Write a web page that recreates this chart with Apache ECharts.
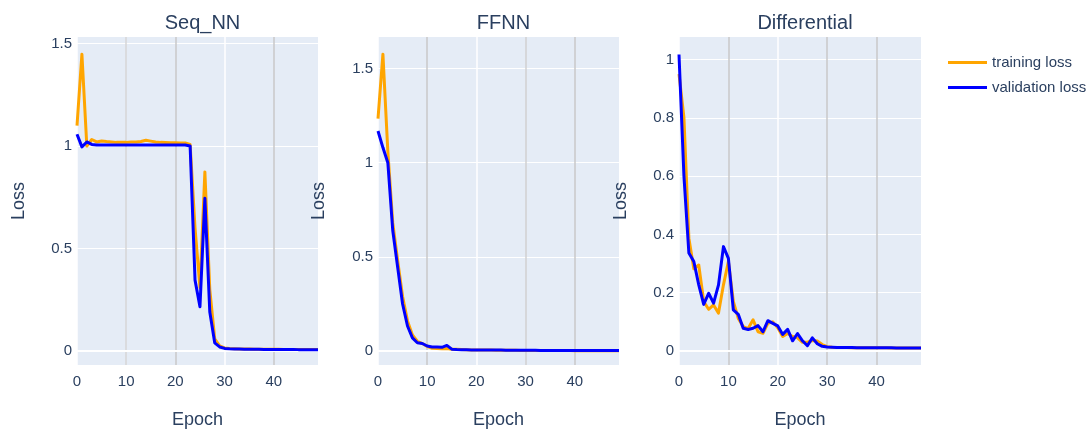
<!DOCTYPE html>
<html>
<head>
<meta charset="utf-8">
<script src="https://cdn.jsdelivr.net/npm/echarts@6/dist/echarts.min.js"></script>
<style>
  html, body { margin: 0; padding: 0; background: #fff; }
  #main { width: 1086px; height: 434px; }
</style>
</head>
<body>
<div id="main"></div>
<script>
// epochs 0..49
const epochs = [0,1,2,3,4,5,6,7,8,9,10,11,12,13,14,15,16,17,18,19,20,21,22,23,24,25,26,27,28,29,
  30,31,32,33,34,35,36,37,38,39,40,41,42,43,44,45,46,47,48,49];

// Seq_NN
const seqTrain = [1.10,1.448,1.00,1.032,1.02,1.025,1.022,1.02,1.018,1.018,1.018,1.02,1.02,1.022,1.028,1.024,1.02,1.018,1.017,1.016,
  1.016,1.015,1.015,1.008,0.60,0.31,0.874,0.30,0.06,0.025,0.015,0.012,0.011,0.01,0.01,0.01,0.009,0.009,0.009,0.009,
  0.009,0.009,0.008,0.008,0.008,0.008,0.008,0.008,0.008,0.008];
const seqVal = [1.058,0.996,1.02,1.008,1.005,1.005,1.005,1.005,1.005,1.005,1.005,1.005,1.005,1.005,1.005,1.005,1.005,1.005,1.005,1.005,
  1.005,1.005,1.005,1.0,0.346,0.216,0.745,0.19,0.04,0.02,0.013,0.011,0.01,0.01,0.009,0.009,0.009,0.009,0.008,0.008,
  0.008,0.008,0.008,0.008,0.008,0.007,0.007,0.007,0.007,0.007];

// FFNN
const ffTrain = [1.234,1.576,1.06,0.68,0.48,0.29,0.16,0.085,0.052,0.04,0.025,0.015,0.013,0.012,0.014,0.01,0.009,0.008,0.007,0.006,
  0.006,0.005,0.005,0.005,0.004,0.004,0.004,0.004,0.004,0.003,0.003,0.003,0.003,0.003,0.003,0.003,0.003,0.003,0.003,0.003,
  0.002,0.002,0.002,0.002,0.002,0.002,0.002,0.002,0.002,0.002];
const ffVal = [1.168,1.08,1.0,0.64,0.444,0.25,0.133,0.07,0.044,0.04,0.027,0.022,0.021,0.02,0.03,0.01,0.008,0.007,0.007,0.006,
  0.006,0.006,0.005,0.005,0.005,0.005,0.004,0.004,0.004,0.004,0.004,0.004,0.004,0.003,0.003,0.003,0.003,0.003,0.003,0.003,
  0.003,0.003,0.003,0.003,0.003,0.003,0.003,0.003,0.003,0.003];

// Differential
const diffTrain = [0.95,0.8,0.387,0.282,0.295,0.17,0.143,0.158,0.13,0.227,0.307,0.17,0.112,0.084,0.077,0.107,0.066,0.061,0.095,0.1,
  0.08,0.05,0.06,0.05,0.045,0.03,0.03,0.036,0.034,0.022,0.015,0.013,0.012,0.012,0.012,0.011,0.011,0.011,0.011,0.011,
  0.011,0.011,0.011,0.01,0.01,0.01,0.01,0.01,0.01,0.01];
const diffVal = [1.017,0.6,0.336,0.307,0.227,0.16,0.198,0.164,0.227,0.358,0.318,0.141,0.126,0.078,0.074,0.078,0.087,0.066,0.104,0.095,
  0.086,0.057,0.074,0.035,0.06,0.035,0.018,0.045,0.025,0.016,0.014,0.013,0.012,0.012,0.012,0.012,0.011,0.011,0.011,0.011,
  0.011,0.011,0.011,0.011,0.01,0.01,0.01,0.01,0.01,0.01];

const titles = ['Seq_NN', 'FFNN', 'Differential'];
const xTicks = [0, 10, 20, 30, 40];
const yTicks = [[0, 0.5, 1, 1.5], [0, 0.5, 1, 1.5], [0, 0.2, 0.4, 0.6, 0.8, 1]];
const yRanges = [[-0.068, 1.532], [-0.074, 1.667], [-0.048, 1.077]];
// colours of vertical grid lines at 0,10,20,30,40
const vGridColors = [
  ['#ffffff', '#d6d6d6', '#c8c8c8', '#ffffff', '#c8c8c8'],
  ['#ffffff', '#c8c8c8', '#ffffff', '#d0d0d0', '#c8c8c8'],
  ['#ffffff', '#c8c8c8', '#ffffff', '#c8c8c8', '#c8c8c8']
];

const FONT = "'Liberation Sans', Arial, sans-serif";
const TXT = '#2a3f5f';
const grids = [
  { left: 77, top: 37, width: 241, height: 328 },
  { left: 378, top: 37, width: 241, height: 328 },
  { left: 679, top: 37, width: 242, height: 328 }
];
const nameGaps = [49, 50, 49];

function pairs(ys) {
  return epochs.map((e, i) => [e, ys[i]]);
}

const seriesData = [[seqTrain, seqVal], [ffTrain, ffVal], [diffTrain, diffVal]];

let series = [];
seriesData.forEach((d, i) => {
  // zero line, kept under the curves
  series.push({
    type: 'line', xAxisIndex: i, yAxisIndex: i, data: [], silent: true, z: 1,
    markLine: {
      silent: true, symbol: 'none', z: 1, label: { show: false },
      lineStyle: { color: '#ffffff', width: 2, type: 'solid' },
      data: [{ yAxis: 0 }]
    }
  });
  series.push({
    name: 'training loss', type: 'line', xAxisIndex: i, yAxisIndex: i,
    data: pairs(d[0]), symbol: 'none', z: 3,
    lineStyle: { color: '#ffa500', width: 3, join: 'round' }, itemStyle: { color: '#ffa500' }
  });
  series.push({
    name: 'validation loss', type: 'line', xAxisIndex: i, yAxisIndex: i,
    data: pairs(d[1]), symbol: 'none', z: 4,
    lineStyle: { color: '#0000ff', width: 3, join: 'round' }, itemStyle: { color: '#0000ff' }
  });
});

const chart = echarts.init(document.getElementById('main'));
chart.setOption({
  animation: false,
  textStyle: { fontFamily: FONT, color: TXT },
  title: titles.map((t, i) => ({
    text: t,
    left: grids[i].left + grids[i].width / 2,
    top: 8,
    textAlign: 'center',
    textStyle: { fontFamily: FONT, fontSize: 20, fontWeight: 'normal', color: TXT }
  })),
  legend: {
    orient: 'vertical', left: 943, top: 50,
    itemWidth: 39, itemHeight: 19, itemGap: 10,
    icon: 'path://M0,0 L39,0 L39,3 L0,3 Z',
    textStyle: { fontFamily: FONT, fontSize: 15, color: TXT },
    data: ['training loss', 'validation loss']
  },
  grid: grids.map(g => Object.assign({ show: true, backgroundColor: '#e5ecf6', borderWidth: 0 }, g)),
  xAxis: grids.map((g, i) => ({
    type: 'value', gridIndex: i, min: 0, max: 49,
    name: 'Epoch', nameLocation: 'middle', nameGap: 46,
    nameTextStyle: { fontFamily: FONT, fontSize: 18, color: TXT },
    axisLine: { show: false }, axisTick: { show: false, customValues: xTicks },
    axisLabel: { customValues: xTicks, margin: 9, fontFamily: FONT, fontSize: 15, color: TXT },
    splitLine: { show: true, lineStyle: { color: vGridColors[i], width: 1.5 } }
  })),
  yAxis: grids.map((g, i) => ({
    type: 'value', gridIndex: i, min: yRanges[i][0], max: yRanges[i][1],
    name: 'Loss', nameLocation: 'middle', nameGap: nameGaps[i], nameRotate: 90,
    nameTextStyle: { fontFamily: FONT, fontSize: 18, color: TXT },
    axisLine: { show: false }, axisTick: { show: false, customValues: yTicks[i] },
    axisLabel: { customValues: yTicks[i], margin: 5, fontFamily: FONT, fontSize: 15, color: TXT },
    splitLine: { show: true, lineStyle: { color: '#ffffff', width: 1 } }
  })),
  series: series
});
</script>
</body>
</html>
